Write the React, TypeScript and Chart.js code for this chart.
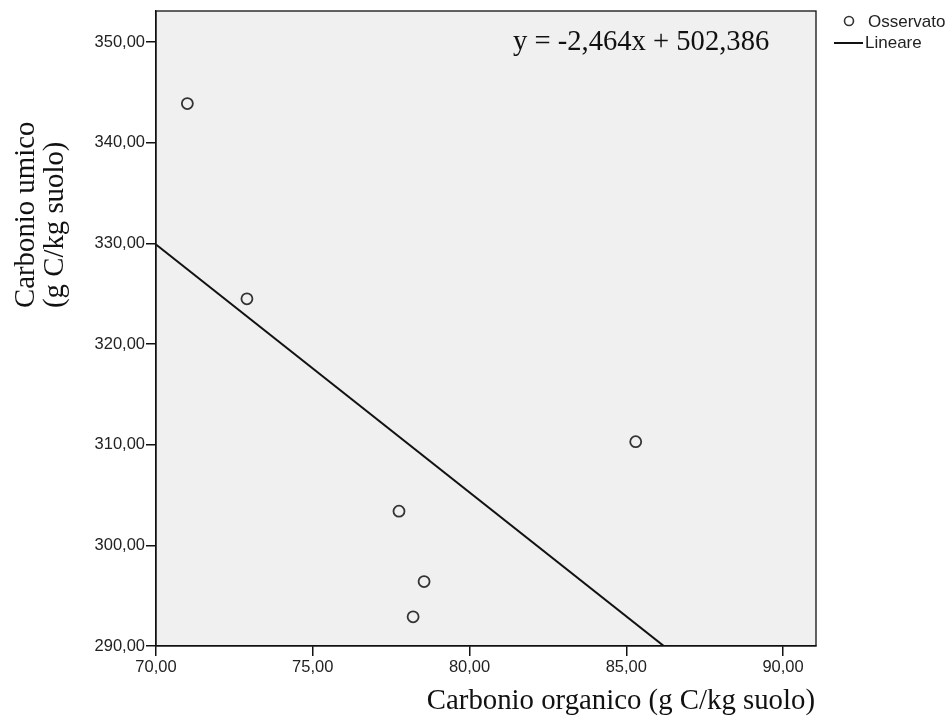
import React, { useEffect, useRef } from "react";
import { Chart, registerables } from "chart.js";

Chart.register(...registerables);

const xValues = [71.0, 72.9, 77.75, 78.2, 78.55, 85.3];
const yValues = [343.9, 324.5, 303.4, 292.9, 296.4, 310.3];
const slope = -2.464;
const intercept = 502.386;
const xRange = [70, 91.05];
const yRange = [290, 353.1];
const equationLabel = "y = -2,464x + 502,386";
const xTitle = "Carbonio organico (g C/kg suolo)";
const yTitleLines = ["Carbonio umico", "(g C/kg suolo)"];
const legendLabels = ["Osservato", "Lineare"];

const SANS = 'Arial, "Liberation Sans", sans-serif';
const SERIF = '"Times New Roman", "Liberation Serif", serif';

const fmt = (v: number) => v.toFixed(2).replace(".", ",");

const decor = {
  id: "decor",
  beforeDraw(chart: any) {
    const { ctx, chartArea: a } = chart;
    ctx.save();
    ctx.fillStyle = "#f0f0f0";
    ctx.fillRect(a.left, a.top, a.right - a.left, a.bottom - a.top);
    ctx.restore();
  },
  afterDraw(chart: any) {
    const { ctx, chartArea: a } = chart;
    ctx.save();
    ctx.strokeStyle = "#111";
    ctx.lineWidth = 1.3;
    ctx.strokeRect(a.left, a.top, a.right - a.left, a.bottom - a.top);

    // equation
    ctx.fillStyle = "#111";
    ctx.font = `28.6px ${SERIF}`;
    ctx.textAlign = "left";
    ctx.textBaseline = "alphabetic";
    ctx.fillText(equationLabel, 513, 50);

    // x title
    ctx.font = `28.8px ${SERIF}`;
    ctx.textAlign = "right";
    ctx.fillText(xTitle, a.right - 1, 709);

    // y title
    ctx.save();
    ctx.translate(0, 308);
    ctx.rotate(-Math.PI / 2);
    ctx.textAlign = "left";
    ctx.fillText(yTitleLines[0], 0, 34);
    ctx.fillText(yTitleLines[1], 0, 63);
    ctx.restore();

    // legend
    ctx.font = `17px ${SANS}`;
    ctx.fillStyle = "#222";
    ctx.textAlign = "left";
    ctx.textBaseline = "middle";
    ctx.beginPath();
    ctx.arc(849, 21, 4.5, 0, Math.PI * 2);
    ctx.strokeStyle = "#333";
    ctx.lineWidth = 1.6;
    ctx.stroke();
    ctx.fillText(legendLabels[0], 868, 22);
    ctx.beginPath();
    ctx.moveTo(834, 43);
    ctx.lineTo(863, 43);
    ctx.strokeStyle = "#111";
    ctx.lineWidth = 2;
    ctx.stroke();
    ctx.fillText(legendLabels[1], 865, 43);
    ctx.restore();
  },
};

export default function App() {
  const ref = useRef<HTMLCanvasElement | null>(null);
  useEffect(() => {
    document.body.style.margin = "0";
    const points = xValues.map((x, i) => ({ x, y: yValues[i] }));
    const linePts = xRange.map((x) => ({ x, y: slope * x + intercept }));
    const chart = new Chart(ref.current as HTMLCanvasElement, {
      type: "scatter",
      data: {
        datasets: [
          {
            label: legendLabels[1],
            type: "line",
            data: linePts,
            borderColor: "#111",
            borderWidth: 2,
            pointRadius: 0,
            fill: false,
          } as any,
          {
            label: legendLabels[0],
            data: points,
            pointStyle: "circle",
            pointRadius: 5.5,
            borderColor: "#333",
            backgroundColor: "rgba(0,0,0,0)",
            borderWidth: 1.8,
          },
        ],
      },
      options: {
        animation: false,
        responsive: false,
        maintainAspectRatio: false,
        devicePixelRatio: 1,
        layout: { padding: { top: 11, right: 136, left: 0, bottom: 0 } },
        plugins: {
          legend: { display: false },
          tooltip: { enabled: false },
        },
        scales: {
          x: {
            type: "linear",
            min: xRange[0],
            max: xRange[1],
            afterFit: (s: any) => {
              s.height = 78;
            },
            ticks: {
              stepSize: 5,
              includeBounds: false,
              autoSkip: false,
              maxRotation: 0,
              padding: 2,
              color: "#222",
              font: { family: SANS, size: 16.5 },
              callback: (v: any) => fmt(Number(v)),
            },
            grid: {
              drawOnChartArea: false,
              drawTicks: true,
              tickLength: 10,
              color: "#111",
              lineWidth: 1.5,
            },
            border: { display: true, color: "#111", width: 1.3 },
          },
          y: {
            type: "linear",
            min: yRange[0],
            max: yRange[1],
            afterFit: (s: any) => {
              s.width = 156;
            },
            ticks: {
              stepSize: 10,
              includeBounds: false,
              autoSkip: false,
              padding: 1,
              color: "#222",
              font: { family: SANS, size: 16.5 },
              callback: (v: any) => fmt(Number(v)),
            },
            grid: {
              drawOnChartArea: false,
              drawTicks: true,
              tickLength: 10,
              color: "#111",
              lineWidth: 1.5,
            },
            border: { display: true, color: "#111", width: 1.3 },
          },
        },
      },
      plugins: [decor],
    });
    return () => chart.destroy();
  }, []);
  return (
    <div style={{ position: "fixed", left: 0, top: 0, width: 952, height: 724, background: "#fff" }}>
      <canvas ref={ref} width={952} height={724} style={{ width: 952, height: 724, display: "block" }} />
    </div>
  );
}
